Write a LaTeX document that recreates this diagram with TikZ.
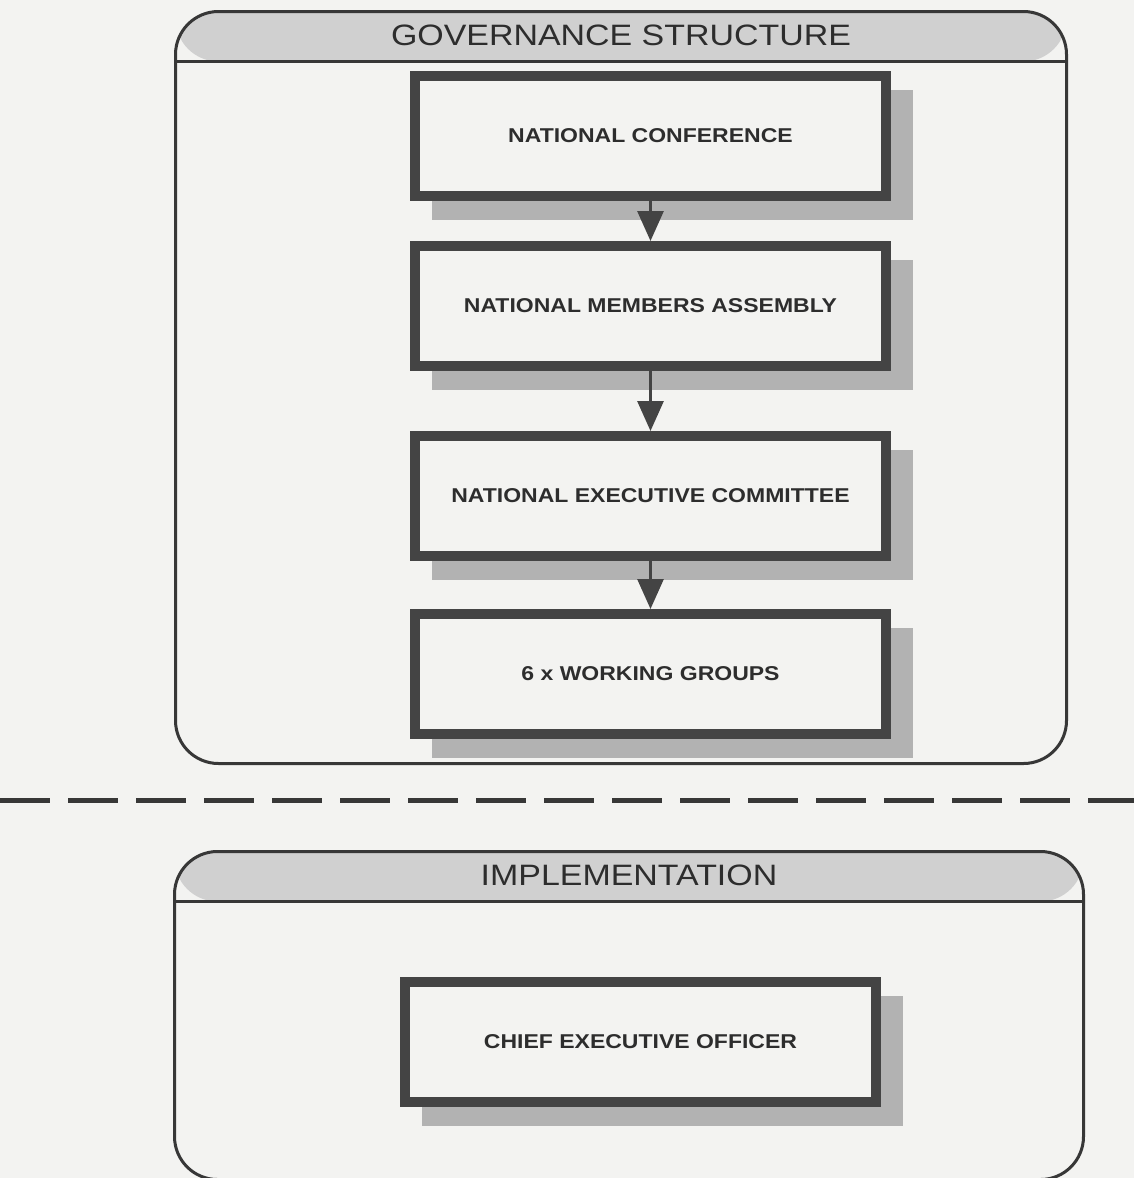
\documentclass[tikz,border=0pt]{standalone}
\usepackage{fontspec}
\setmainfont{Liberation Sans}
\newfontfamily\titlefont{Liberation Sans}[FakeStretch=1.15]
\newfontfamily\boxfont{Liberation Sans}[FakeStretch=1.15]
\usepackage{tikz}
\usetikzlibrary{positioning, arrows.meta, backgrounds}
\definecolor{pagegray}{RGB}{243,243,241}
\definecolor{framegray}{RGB}{55,55,55}
\definecolor{headgray}{RGB}{208,208,208}
\definecolor{boxgray}{RGB}{68,68,68}
\definecolor{shadegray}{RGB}{178,178,178}
\definecolor{textgray}{RGB}{45,45,45}

\begin{document}
\begin{tikzpicture}[x=1pt, y=-1pt, node distance=40pt,
  container/.style={draw=framegray, line width=3pt, rounded corners=43pt, inner sep=0pt,
    path picture={
      \fill[headgray] (path picture bounding box.north west) rectangle ([yshift=-50pt]path picture bounding box.north east);
      \draw[framegray, line width=3pt] ([yshift=-50pt]path picture bounding box.north west) -- ([yshift=-50pt]path picture bounding box.north east);
    }},
  title/.style={font=\titlefont\fontsize{29.5}{34}\selectfont, text=textgray, inner sep=0pt},
  govbox/.style={rectangle, draw=boxgray, line width=10pt, fill=pagegray, minimum width=471pt, minimum height=120pt, inner sep=0pt, align=center, font=\boxfont\bfseries\fontsize{20}{24}\selectfont, text=textgray},
  flow/.style={draw=boxgray, line width=3pt, -{Triangle[length=30pt, width=26pt]}},
  shade/.style={fill=shadegray},
  sepline/.style={draw=framegray, line width=5pt, dash pattern=on 50pt off 18pt}]

\useasboundingbox (0,0) rectangle (1134,1178);
\begin{scope}[on background layer]
\fill[pagegray] (0,0) rectangle (1134,1178);
\end{scope}

% Containers
\node[container, minimum width=891pt, minimum height=752pt] (gov) at (621,387.5) {};
\node[title] (govtitle) at ([yshift=-25pt]gov.north) {GOVERNANCE STRUCTURE};
\node[container, minimum width=909pt, minimum height=328pt] (impl) at (629,1015.5) {};
\node[title] (impltitle) at ([yshift=-25pt]impl.north) {IMPLEMENTATION};

% Box 1 - National conference
\node[govbox] (nc) at (650.5,136) {NATIONAL CONFERENCE};

% Box 2 - Members assembly
\node[govbox, below=of nc] (nma) {NATIONAL MEMBERS ASSEMBLY};

% Box 3 - Executive committee
\node[govbox, below=60pt of nma] (nec) {NATIONAL EXECUTIVE COMMITTEE};

% Box 4 - Working groups
\node[govbox, below=48pt of nec] (wg) {6 x WORKING GROUPS};

% Box 5 - CEO
\node[govbox] (ceo) at (640.5,1042) {CHIEF EXECUTIVE OFFICER};

% shadows behind the boxes
\begin{scope}[on background layer]
\foreach \b in {nc,nma,nec,wg,ceo}
  \fill[shade] ([shift={(22pt,-19pt)}]\b.south west) rectangle ([shift={(22pt,-19pt)}]\b.north east);
\end{scope}

\draw[flow] (nc) -- (nma);
\draw[flow] (nma) -- (nec);
\draw[flow] (nec) -- (wg);

% separator
\coordinate (sepL) at (0,800);
\coordinate (sepR) at (1134,800);
\draw[sepline] (sepL) -- (sepR);

\end{tikzpicture}
\end{document}
